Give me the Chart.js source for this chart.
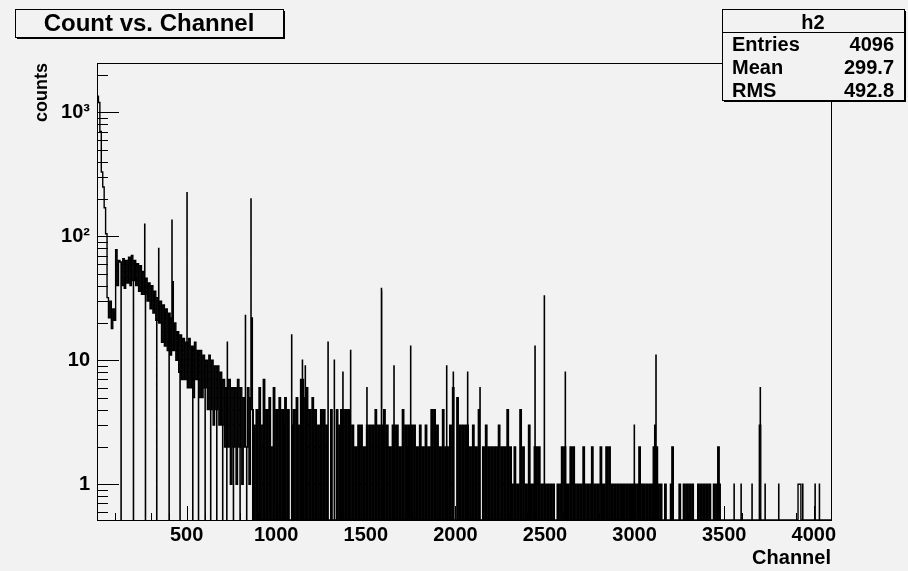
<!DOCTYPE html>
<html lang="en">
<head>
  <meta charset="UTF-8" />
  <title>Count vs. Channel</title>
  <script src="https://cdn.jsdelivr.net/npm/chart.js@4.4.1/dist/chart.umd.min.js"></script>
  <style>
    html, body { margin: 0; padding: 0; background: #fff; }
    #wrap { width: 908px; height: 571px; }
  </style>
</head>
<body>
  <div id="wrap"><canvas id="chart" width="908" height="571"></canvas></div>

  <script>
    // histogram h2 in bins of 8 channels (64 bins per array)
    const binWidth = 8;
    const lastChannel = 4096;

    // channels 0 - 511
    const counts0000 = [
      1350, 1200, 700, 330, 250, 170, 105, 32,
      22, 30, 18, 26, 21, 78, 40, 64,
      62, 40, 66, 38, 64, 42, 68, 40,
      70, 44, 64, 40, 60, 36, 58, 34,
      52, 34, 46, 30, 42, 26, 40, 24,
      36, 21, 32, 20, 30, 14, 28, 13,
      26, 12, 24, 11, 22, 12, 20, 10,
      17, 8, 16, 7, 15, 7, 14, 6
    ];
    // channels 512 - 1023
    const counts0512 = [
      15, 6, 13, 5, 14, 7, 12, 5,
      12, 5, 11, 6, 10, 4, 11, 4,
      10, 3, 9, 4, 9, 3, 8, 3,
      7, 2, 6, 2, 7, 1, 6, 2,
      6, 1, 7, 2, 6, 1, 5, 2,
      2, 6, 1, 5, 4, 3, 0, 4,
      0, 6, 3, 0, 7, 0, 4, 0,
      5, 2, 0, 6, 0, 4, 0, 5
    ];
    // channels 1024 - 1535
    const counts1024 = [
      0, 4, 3, 5, 0, 4, 0, 0,
      3, 4, 0, 5, 3, 0, 7, 7,
      0, 5, 6, 0, 4, 0, 5, 0,
      4, 0, 3, 0, 4, 0, 4, 0,
      3, 0, 0, 4, 0, 0, 0, 4,
      0, 3, 4, 4, 0, 4, 0, 4,
      3, 0, 3, 0, 2, 0, 3, 0,
      3, 0, 2, 0, 3, 0, 3, 0
    ];
    // channels 1536 - 2047
    const counts1536 = [
      3, 0, 4, 0, 3, 0, 3, 0,
      4, 0, 3, 0, 2, 0, 3, 3,
      0, 3, 0, 2, 0, 4, 0, 3,
      2, 3, 0, 3, 0, 3, 0, 2,
      0, 3, 0, 2, 0, 3, 0, 2,
      0, 4, 0, 4, 0, 3, 0, 2,
      0, 4, 0, 2, 2, 0, 3, 0,
      6, 0, 0, 5, 0, 3, 0, 3
    ];
    // channels 2048 - 2559
    const counts2048 = [
      0, 3, 3, 0, 2, 0, 3, 0,
      2, 0, 4, 0, 0, 2, 0, 3,
      0, 2, 0, 2, 0, 2, 0, 2,
      3, 0, 2, 0, 2, 0, 4, 0,
      2, 1, 0, 2, 0, 1, 0, 4,
      0, 2, 0, 1, 0, 3, 1, 0,
      1, 2, 2, 0, 2, 0, 1, 0,
      1, 0, 1, 0, 1, 0, 1, 0
    ];
    // channels 2560 - 3071
    const counts2560 = [
      0, 1, 0, 1, 2, 0, 2, 1,
      1, 0, 2, 0, 2, 1, 0, 1,
      0, 1, 0, 2, 1, 0, 1, 0,
      1, 2, 0, 1, 0, 1, 0, 2,
      1, 1, 0, 2, 0, 2, 0, 1,
      0, 1, 0, 1, 0, 1, 1, 1,
      0, 1, 0, 1, 0, 1, 0, 1,
      0, 1, 2, 0, 1, 1, 0, 1
    ];
    // channels 3072 - 3583
    const counts3072 = [
      0, 1, 0, 1, 2, 3, 2, 1,
      0, 1, 0, 0, 1, 0, 0, 0,
      1, 2, 0, 0, 0, 0, 1, 0,
      0, 1, 0, 1, 0, 1, 0, 1,
      0, 0, 0, 1, 0, 1, 0, 1,
      0, 1, 0, 1, 0, 0, 1, 0,
      1, 2, 0, 0, 0, 0, 0, 0,
      0, 0, 0, 0, 0, 0, 0, 0
    ];
    // channels 3584 - 4095
    const counts3584 = [
      0, 0, 0, 0, 0, 0, 0, 0,
      0, 0, 0, 0, 0, 0, 3, 0,
      0, 0, 0, 0, 0, 0, 0, 0,
      0, 0, 0, 0, 0, 0, 0, 0,
      0, 0, 0, 0, 0, 0, 0, 0,
      0, 1, 1, 0, 0, 0, 0, 0,
      0, 0, 0, 0, 0, 0, 0, 0,
      0, 0, 0, 0, 0, 0, 0, 0
    ];

    // single channels that stand out from their bin (spikes, empty channels)
    const singleChannel = [
      134, 203, 266, 270, 333, 344, 402, 418, 425, 463, 502,
      534, 566, 603, 634, 668, 701, 724, 727, 761, 798, 828, 835, 859, 866,
      1086, 1146, 1162, 1289, 1324, 1372, 1415, 1506,
      1587, 1588, 1657, 1750, 1951, 1988,
      2068, 2137, 2444, 2496, 2613, 2998,
      3119, 3477, 3555, 3594, 3655, 3701, 3728, 3804, 3938, 4007, 4031
    ];
    const singleCount = [
      0, 0, 125, 0, 0, 80, 0, 135, 43, 0, 225,
      0, 0, 0, 0, 0, 0, 0, 14, 0, 0, 23, 0, 200, 22,
      16, 10, 9, 14, 10, 8, 12, 6,
      38, 36, 9, 13, 9, 8,
      8, 6, 13, 33, 8, 3,
      11, 1, 1, 1, 1, 6, 1, 1, 1, 1, 1
    ];

    // axis ticks / labels
    const xTickValues = [500, 1000, 1500, 2000, 2500, 3000, 3500, 4000];
    const yTickValues = [1, 10, 100, 1000];
    const yTickLabels = ["1", "10", "10\u00B2", "10\u00B3"];

    // stats box
    const statsName = "h2";
    const statsRows = [["Entries", "4096"], ["Mean", "299.7"], ["RMS", "492.8"]];

    const yMin = 0.515;
    const yMax = 2500;

    // channel range where the picture is so dense it reads as solid black
    const denseFrom = 864;
    const denseTo = 3480;

    // build step points; empty bins fall to the bottom of the log axis
    const level = c => (c > 0 ? c : yMin);
    const single = new Map(singleChannel.map((ch, i) => [ch, singleCount[i]]));
    const allCounts = [].concat(counts0000, counts0512, counts1024, counts1536,
                                counts2048, counts2560, counts3072, counts3584);
    const points = [];
    allCounts.forEach((c, i) => {
      const start = i * binWidth;
      points.push({ x: start, y: level(c) });
      for (let ch = start; ch < start + binWidth; ch++) {
        if (single.has(ch)) {
          points.push({ x: ch, y: level(single.get(ch)) });
          points.push({ x: ch + 1, y: level(c) });
        }
      }
    });
    points.push({ x: lastChannel, y: points[points.length - 1].y });
    const densePoints = points.filter(p => p.x >= denseFrom && p.x <= denseTo);

    const FONT = 'Arial, "Liberation Sans", Helvetica, sans-serif';
    const BG = "#f2f2f2";

    function drawBox(ctx, x, y, w, h) {
      ctx.fillStyle = "#000";
      ctx.fillRect(x + 2, y + 2, w, h);
      ctx.fillStyle = BG;
      ctx.fillRect(x, y, w, h);
      ctx.strokeStyle = "#000";
      ctx.lineWidth = 1;
      ctx.strokeRect(x + 0.5, y + 0.5, w, h);
    }

    const rootDecor = {
      id: "rootDecor",
      beforeDraw(chart) {
        const ctx = chart.ctx;
        ctx.save();
        ctx.fillStyle = BG;
        ctx.fillRect(0, 0, chart.width, chart.height);
        ctx.restore();
      },
      afterDraw(chart) {
        const { ctx, chartArea: a, scales } = chart;
        const x = scales.x, y = scales.y;
        ctx.save();

        // frame
        ctx.strokeStyle = "#000";
        ctx.lineWidth = 1;
        ctx.strokeRect(a.left + 0.5, a.top + 0.5, a.right - a.left, a.bottom - a.top);

        // tick marks drawn inside the frame, ROOT style
        ctx.beginPath();
        for (let e = -1; e <= 3; e++) {
          for (let m = 1; m <= 9; m++) {
            const v = m * Math.pow(10, e);
            if (v < y.min || v > y.max) continue;
            const py = Math.round(y.getPixelForValue(v)) + 0.5;
            const len = m === 1 ? 22 : 11;
            ctx.moveTo(a.left, py);
            ctx.lineTo(a.left + len, py);
          }
        }
        for (let c = 100; c < lastChannel; c += 100) {
          const px = Math.round(x.getPixelForValue(c)) + 0.5;
          const len = c % 500 === 0 ? 14 : 7;
          ctx.moveTo(px, a.bottom);
          ctx.lineTo(px, a.bottom - len);
        }
        ctx.stroke();

        // axis titles
        ctx.fillStyle = "#000";
        ctx.font = "bold 20px " + FONT;
        ctx.textAlign = "right";
        ctx.textBaseline = "alphabetic";
        ctx.fillText("Channel", a.right, 564);

        ctx.save();
        ctx.translate(47, a.top);
        ctx.rotate(-Math.PI / 2);
        ctx.font = "bold 18px " + FONT;
        ctx.textAlign = "right";
        ctx.fillText("counts", 0, 0);
        ctx.restore();

        // title box
        drawBox(ctx, 15, 9, 268, 28);
        ctx.fillStyle = "#000";
        ctx.font = "bold 24px " + FONT;
        ctx.textAlign = "center";
        ctx.fillText("Count vs. Channel", 149, 31);

        // stats box
        drawBox(ctx, 722, 9, 182, 91);
        ctx.beginPath();
        ctx.moveTo(722, 32.5);
        ctx.lineTo(904, 32.5);
        ctx.stroke();
        ctx.fillStyle = "#000";
        ctx.font = "bold 20px " + FONT;
        ctx.textAlign = "center";
        ctx.fillText(statsName, 813, 29);
        statsRows.forEach((r, i) => {
          const by = 51 + i * 23;
          ctx.textAlign = "left";
          ctx.fillText(r[0], 732, by);
          ctx.textAlign = "right";
          ctx.fillText(r[1], 894, by);
        });

        ctx.restore();
      }
    };

    const ctx = document.getElementById("chart").getContext("2d");
    new Chart(ctx, {
      type: "line",
      data: {
        datasets: [{
          label: statsName,
          data: points,
          stepped: true,
          borderColor: "#000",
          borderWidth: 1.4,
          pointRadius: 0,
          fill: false
        }, {
          label: statsName + " (dense part)",
          data: densePoints,
          stepped: true,
          borderColor: "rgba(0,0,0,0)",
          backgroundColor: "#000",
          pointRadius: 0,
          fill: "origin"
        }]
      },
      options: {
        responsive: false,
        animation: false,
        devicePixelRatio: 1,
        layout: { padding: { left: 0, right: 77, top: 63, bottom: 0 } },
        plugins: {
          legend: { display: false },
          tooltip: { enabled: false },
          title: { display: false }
        },
        scales: {
          x: {
            type: "linear",
            min: 0,
            max: lastChannel,
            grid: { display: false, drawTicks: false },
            border: { display: false },
            afterFit: s => { s.height = 51; },
            afterBuildTicks: s => { s.ticks = xTickValues.map(v => ({ value: v })); },
            ticks: {
              autoSkip: false,
              maxRotation: 0,
              padding: 3,
              color: "#000",
              font: { family: FONT, size: 20, weight: "bold" },
              callback: v => String(v)
            }
          },
          y: {
            type: "logarithmic",
            min: yMin,
            max: yMax,
            grid: { display: false, drawTicks: false },
            border: { display: false },
            afterFit: s => { s.width = 97; },
            afterBuildTicks: s => { s.ticks = yTickValues.map(v => ({ value: v })); },
            ticks: {
              padding: 7,
              color: "#000",
              font: { family: FONT, size: 20, weight: "bold" },
              callback: v => yTickLabels[yTickValues.indexOf(v)]
            }
          }
        }
      },
      plugins: [rootDecor]
    });
  </script>
</body>
</html>
